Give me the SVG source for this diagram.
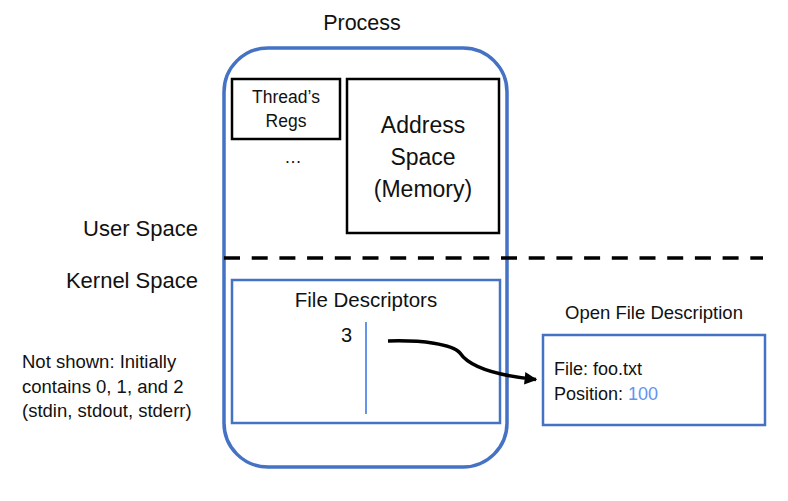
<svg xmlns="http://www.w3.org/2000/svg" width="788" height="501" viewBox="0 0 788 501">
<style>
text{font-family:"Liberation Sans","Noto Sans",sans-serif;fill:#111;}
.blue{fill:none;stroke:#4472C4;}
.blk{fill:none;stroke:#000;stroke-width:2.5;}
.mid{text-anchor:middle;}
.end{text-anchor:end;}
</style>
<defs>
<marker id="ah" viewBox="0 0 10 10" refX="9" refY="5" markerWidth="3.6" markerHeight="3.6" orient="auto" markerUnits="strokeWidth">
<path d="M0,0 L10,5 L0,10 z" fill="#000"/>
</marker>
</defs>
<rect width="788" height="501" fill="#fff"/>
<g id="labels">
<text x="362" y="30" class="mid" font-size="21.5">Process</text>
<text x="198" y="236" class="end" font-size="22">User Space</text>
<text x="198" y="288" class="end" font-size="22">Kernel Space</text>
<text x="22" y="368" font-size="18.5">Not shown: Initially</text>
<text x="22" y="392.5" font-size="18.5">contains 0, 1, and 2</text>
<text x="22" y="417" font-size="18.5">(stdin, stdout, stderr)</text>
</g>
<g id="process">
<rect class="blue" x="224" y="48" width="283" height="419" rx="44" stroke-width="3.5"/>
</g>
<g id="threadregs">
<rect class="blk" x="232" y="79" width="108" height="60"/>
<text x="286" y="103" class="mid" font-size="17.5">Thread’s</text>
<text x="286" y="127" class="mid" font-size="17.5">Regs</text>
<text x="293" y="163" class="mid" font-size="17.5">…</text>
</g>
<g id="addressspace">
<rect class="blk" x="347" y="79" width="152" height="154"/>
<text x="423" y="133" class="mid" font-size="23">Address</text>
<text x="423" y="165" class="mid" font-size="23">Space</text>
<text x="423" y="197" class="mid" font-size="23">(Memory)</text>
</g>
<g id="divider">
<line x1="224" y1="258" x2="763" y2="258" stroke="#000" stroke-width="3.5" stroke-dasharray="16 11.7"/>
</g>
<g id="filedescriptors">
<rect class="blue" x="232" y="280" width="268" height="143" stroke-width="2.5"/>
<text x="366" y="307" class="mid" font-size="20.5">File Descriptors</text>
<text x="352" y="342" class="end" font-size="20">3</text>
<line x1="366" y1="322" x2="366" y2="414" stroke="#6495ED" stroke-width="2"/>
</g>
<g id="openfiledescription">
<text x="654" y="319" class="mid" font-size="18.5">Open File Description</text>
<rect class="blue" x="543" y="335" width="222" height="90" stroke-width="2.5"/>
<text x="554" y="375" font-size="18">File: foo.txt</text>
<text x="554" y="400" font-size="18">Position: <tspan fill="#6495ED">100</tspan></text>
</g>
<g id="connectors">
<path d="M388,341 C422,340 452,344 460,353 C468,365 492,375 536,379.5" fill="none" stroke="#000" stroke-width="3.5" marker-end="url(#ah)"/>
</g>
</svg>
